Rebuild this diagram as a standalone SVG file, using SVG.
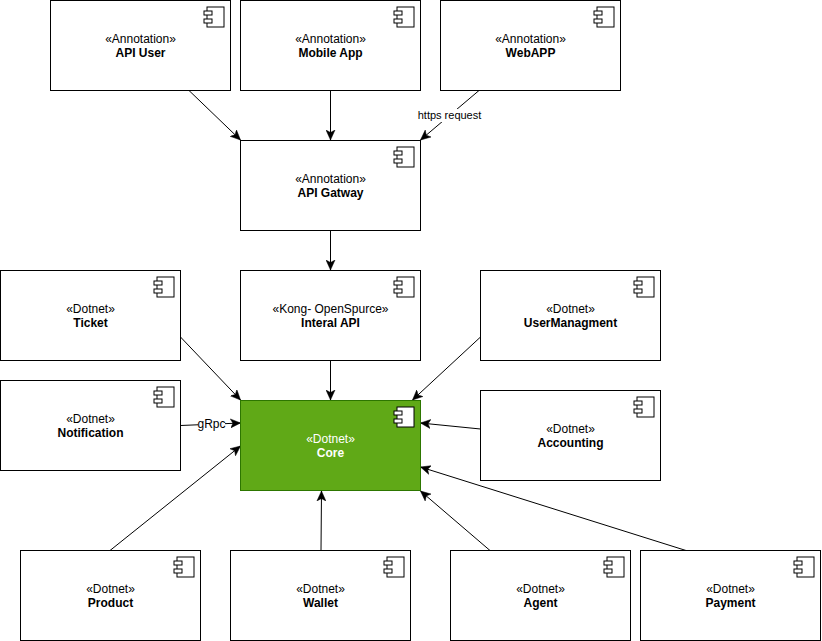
<svg xmlns="http://www.w3.org/2000/svg" width="822" height="641" viewBox="0 0 822 641">
<style>
text{font-family:"Liberation Sans",Arial,sans-serif;font-size:12px;text-anchor:middle;fill:#000}
.b{font-weight:bold}
.box{fill:#fff;stroke:#000;stroke-width:1}
.ic{fill:#fff;stroke:#000;stroke-width:1}
.edge{fill:none;stroke:#000;stroke-width:1;marker-end:url(#arrow)}
.lbl{font-size:11px}
.lb{fill:#fff}
#core .box{fill:#60a917;stroke:#2d7600}
#core text{fill:#fff}
</style>
<defs>
<marker id="arrow" markerUnits="userSpaceOnUse" markerWidth="12" markerHeight="10" refX="10" refY="5" orient="auto"><path d="M0 0.5L10 5L0 9.5L2.5 5Z" fill="#000" stroke="#000" stroke-width="0.5"/></marker>
<g id="comp"><rect class="ic" x="-17" y="7" width="17" height="20"/><rect class="ic" x="-20" y="11" width="8" height="4"/><rect class="ic" x="-20" y="19" width="8" height="4"/></g>
</defs>
<rect width="822" height="641" fill="#fff"/>
<g id="connectors">
<path class="edge" d="M189 90.5L240.5 140"/>
<path class="edge" d="M330.5 90.5V140"/>
<path class="edge" d="M479 90.5L420.5 140"/>
<path class="edge" d="M330.5 230.5V270"/>
<path class="edge" d="M180.5 337L240.5 400"/>
<path class="edge" d="M330.5 360.5V400"/>
<path class="edge" d="M480.5 337L412.5 400"/>
<path class="edge" d="M180.5 425.5L240.5 423"/>
<path class="edge" d="M480.5 429L420.5 423"/>
<path class="edge" d="M110 550.5L240.5 446"/>
<path class="edge" d="M321 550.5L321.5 491"/>
<path class="edge" d="M490 550.5L420.5 491"/>
<path class="edge" d="M686 550.5L420.5 467"/>
<rect class="lb" x="418" y="109" width="63" height="13"/>
<text class="lbl" x="449.5" y="119">https request</text>
<rect class="lb" x="198" y="418" width="27" height="13"/>
<text x="211.5" y="428">gRpc</text>
</g>
<g id="api-user"><rect class="box" x="50.5" y="0.5" width="180" height="90"/><use href="#comp" x="224" y="0"/><text x="140.5" y="43">«Annotation»</text><text class="b" x="140.5" y="57">API User</text></g>
<g id="mobile-app"><rect class="box" x="240.5" y="0.5" width="180" height="90"/><use href="#comp" x="414" y="0"/><text x="330.5" y="43">«Annotation»</text><text class="b" x="330.5" y="57">Mobile App</text></g>
<g id="webapp"><rect class="box" x="440.5" y="0.5" width="180" height="90"/><use href="#comp" x="614" y="0"/><text x="530.5" y="43">«Annotation»</text><text class="b" x="530.5" y="57">WebAPP</text></g>
<g id="api-gatway"><rect class="box" x="240.5" y="140.5" width="180" height="90"/><use href="#comp" x="414" y="140"/><text x="330.5" y="183">«Annotation»</text><text class="b" x="330.5" y="197">API Gatway</text></g>
<g id="ticket"><rect class="box" x="0.5" y="270.5" width="180" height="90"/><use href="#comp" x="174" y="270"/><text x="90.5" y="313">«Dotnet»</text><text class="b" x="90.5" y="327">Ticket</text></g>
<g id="interal-api"><rect class="box" x="240.5" y="270.5" width="180" height="90"/><use href="#comp" x="414" y="270"/><text x="330.5" y="313">«Kong- OpenSpurce»</text><text class="b" x="330.5" y="327">Interal API</text></g>
<g id="usermanagment"><rect class="box" x="480.5" y="270.5" width="180" height="90"/><use href="#comp" x="654" y="270"/><text x="570.5" y="313">«Dotnet»</text><text class="b" x="570.5" y="327">UserManagment</text></g>
<g id="notification"><rect class="box" x="0.5" y="380.5" width="180" height="90"/><use href="#comp" x="174" y="380"/><text x="90.5" y="423">«Dotnet»</text><text class="b" x="90.5" y="437">Notification</text></g>
<g id="core"><rect class="box" x="240.5" y="400.5" width="180" height="90"/><use href="#comp" x="414" y="400"/><text x="330.5" y="443">«Dotnet»</text><text class="b" x="330.5" y="457">Core</text></g>
<g id="accounting"><rect class="box" x="480.5" y="390.5" width="180" height="90"/><use href="#comp" x="654" y="390"/><text x="570.5" y="433">«Dotnet»</text><text class="b" x="570.5" y="447">Accounting</text></g>
<g id="product"><rect class="box" x="20.5" y="550.5" width="180" height="90"/><use href="#comp" x="194" y="550"/><text x="110.5" y="593">«Dotnet»</text><text class="b" x="110.5" y="607">Product</text></g>
<g id="wallet"><rect class="box" x="230.5" y="550.5" width="180" height="90"/><use href="#comp" x="404" y="550"/><text x="320.5" y="593">«Dotnet»</text><text class="b" x="320.5" y="607">Wallet</text></g>
<g id="agent"><rect class="box" x="450.5" y="550.5" width="180" height="90"/><use href="#comp" x="624" y="550"/><text x="540.5" y="593">«Dotnet»</text><text class="b" x="540.5" y="607">Agent</text></g>
<g id="payment"><rect class="box" x="640.5" y="550.5" width="180" height="90"/><use href="#comp" x="814" y="550"/><text x="730.5" y="593">«Dotnet»</text><text class="b" x="730.5" y="607">Payment</text></g>
</svg>
